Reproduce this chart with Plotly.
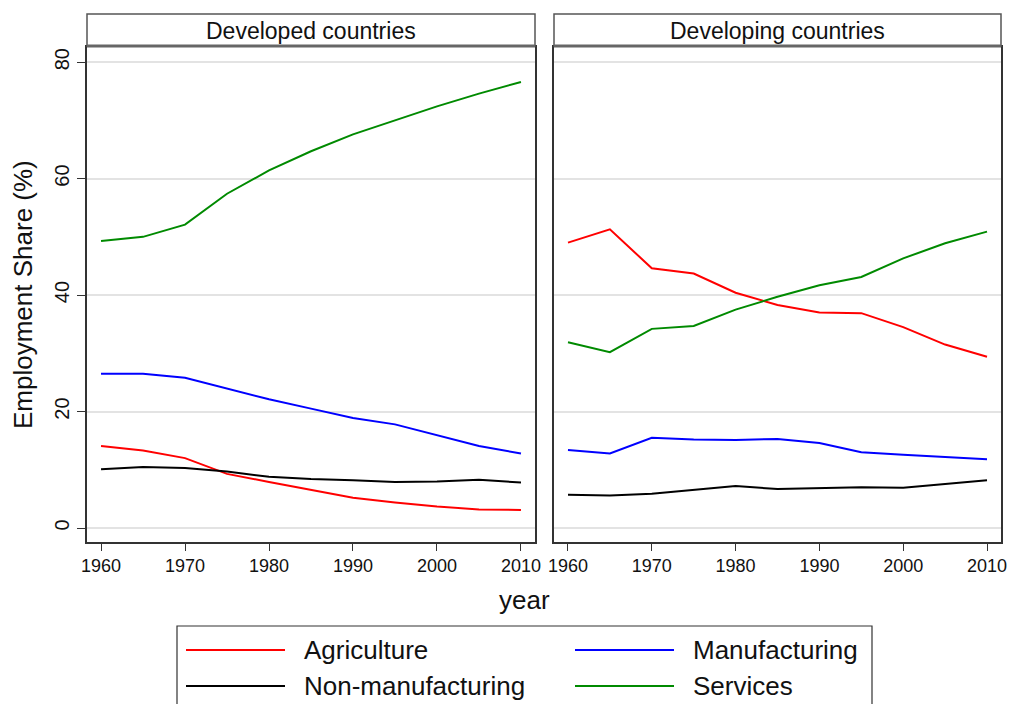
import plotly.graph_objects as go

W, H = 1009, 704
years = [1960, 1965, 1970, 1975, 1980, 1985, 1990, 1995, 2000, 2005, 2010]

# Developed countries
dev_agri = [14.1, 13.3, 12.0, 9.3, 7.9, 6.5, 5.2, 4.4, 3.7, 3.2, 3.1]
dev_manu = [26.5, 26.5, 25.8, 24.0, 22.1, 20.5, 18.9, 17.8, 16.0, 14.1, 12.8]
dev_nonm = [10.1, 10.5, 10.3, 9.7, 8.8, 8.4, 8.2, 7.9, 8.0, 8.3, 7.8]
dev_serv = [49.3, 50.0, 52.1, 57.4, 61.4, 64.7, 67.6, 70.0, 72.4, 74.6, 76.6]

# Developing countries
dvg_agri = [49.0, 51.3, 44.6, 43.7, 40.4, 38.3, 37.0, 36.9, 34.5, 31.5, 29.4]
dvg_manu = [13.4, 12.8, 15.5, 15.2, 15.1, 15.3, 14.6, 13.0, 12.6, 12.2, 11.8]
dvg_nonm = [5.7, 5.6, 5.9, 6.5, 7.2, 6.7, 6.9, 7.0, 6.9, 7.6, 8.2]
dvg_serv = [31.9, 30.2, 34.2, 34.7, 37.5, 39.7, 41.7, 43.1, 46.3, 48.9, 50.9]

series_names = ["Agriculture", "Manufacturing", "Non-manufacturing", "Services"]
series_colors = ["#ff0000", "#0000ff", "#000000", "#008a00"]
panel_titles = ["Developed countries", "Developing countries"]
y_ticks = [0, 20, 40, 60, 80]
x_ticks = [1960, 1970, 1980, 1990, 2000, 2010]

FONT = "Arial, Liberation Sans, sans-serif"

def px(x):
    return x / W

def py(y):
    return 1 - y / H

fig = go.Figure()
panels = [
    ("x", "y", [dev_agri, dev_manu, dev_nonm, dev_serv]),
    ("x2", "y2", [dvg_agri, dvg_manu, dvg_nonm, dvg_serv]),
]
for xa, ya, data in panels:
    for name, color, vals in zip(series_names, series_colors, data):
        fig.add_trace(go.Scatter(x=years, y=vals, mode="lines", name=name,
                                 line=dict(color=color, width=2),
                                 xaxis=xa, yaxis=ya, showlegend=False))

left = (87, 535)
right = (554, 1001)
top_plot, bot_plot = 47, 542
xr = [1958.33, 2011.67]
yr = [-2.4, 82.6]

common_x = dict(range=xr, tickvals=x_ticks, ticks="outside", ticklen=7, tickwidth=1.2,
                tickcolor="#333", showline=True, linecolor="#333", linewidth=1.5, mirror=True,
                showgrid=False, zeroline=False, automargin=False,
                tickfont=dict(size=18, color="#111", family=FONT))
fig.update_layout(
    width=W, height=H, margin=dict(l=0, r=0, t=0, b=0, autoexpand=False),
    paper_bgcolor="white", plot_bgcolor="white",
    font=dict(family=FONT, color="#111"),
    xaxis=dict(domain=[px(left[0]), px(left[1])], anchor="y", **common_x),
    xaxis2=dict(domain=[px(right[0]), px(right[1])], anchor="y2", **common_x),
    yaxis=dict(domain=[py(bot_plot), py(top_plot)], range=yr, tickvals=y_ticks,
               ticks="outside", ticklen=8, tickwidth=1.2, tickcolor="#333",
               tickangle=-90, tickfont=dict(size=20, color="#111", family=FONT),
               showline=True, linecolor="#333", linewidth=1.5, mirror=True, automargin=False,
               showgrid=True, gridcolor="#e3e3e3", gridwidth=1.5, zeroline=False),
    yaxis2=dict(domain=[py(bot_plot), py(top_plot)], range=yr, tickvals=y_ticks,
                anchor="x2", showticklabels=False, ticks="", automargin=False,
                showline=True, linecolor="#333", linewidth=1.5, mirror=True,
                showgrid=True, gridcolor="#e3e3e3", gridwidth=1.5, zeroline=False),
)

shapes = []
annotations = []
for (x0, x1), title in zip([left, right], panel_titles):
    shapes.append(dict(type="rect", xref="paper", yref="paper",
                       x0=px(x0), x1=px(x1), y0=py(46), y1=py(14),
                       line=dict(color="#555", width=1.5), fillcolor="white"))
    shapes.append(dict(type="line", xref="paper", yref="paper",
                       x0=px(x0), x1=px(x1), y0=py(46), y1=py(46),
                       line=dict(color="#666", width=3)))
    annotations.append(dict(text=title, xref="paper", yref="paper",
                            x=px((x0 + x1) / 2), y=py(31), showarrow=False,
                            xanchor="center", yanchor="middle",
                            font=dict(size=23, color="#111", family=FONT)))

annotations.append(dict(text="Employment Share (%)", xref="paper", yref="paper",
                        x=px(23), y=py(295), textangle=-90, showarrow=False,
                        xanchor="center", yanchor="middle",
                        font=dict(size=26, color="#111", family=FONT)))
annotations.append(dict(text="year", xref="paper", yref="paper",
                        x=px(524), y=py(600), showarrow=False,
                        xanchor="center", yanchor="middle",
                        font=dict(size=26, color="#111", family=FONT)))

# Legend box
shapes.append(dict(type="rect", xref="paper", yref="paper",
                   x0=px(177), x1=px(872), y0=py(712), y1=py(626),
                   line=dict(color="#333", width=1.2), fillcolor="rgba(0,0,0,0)"))
legend_pos = [(186, 650), (575, 650), (186, 686), (575, 686)]
for (lx, ly), name, color in zip(legend_pos, series_names, series_colors):
    shapes.append(dict(type="line", xref="paper", yref="paper",
                       x0=px(lx), x1=px(lx + 99), y0=py(ly), y1=py(ly),
                       line=dict(color=color, width=2)))
    annotations.append(dict(text=name, xref="paper", yref="paper",
                            x=px(lx + 116), y=py(ly), showarrow=False,
                            xanchor="left", yanchor="middle",
                            font=dict(size=26, color="#111", family=FONT)))

fig.update_layout(shapes=shapes, annotations=annotations)
fig.write_html("out.html")
